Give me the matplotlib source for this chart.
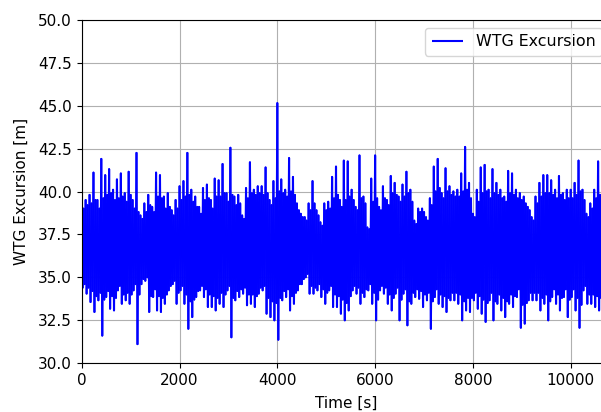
import numpy as np
import matplotlib
matplotlib.use("Agg")
import matplotlib.pyplot as plt
from matplotlib.collections import LineCollection

plt.rcParams["font.size"] = 11

# Wind turbine generator excursion time history. Every 80 s block holds
# four turning points of the motion record: the outer crest, the outer
# trough, then the inner crest and inner trough of the following waves.
step = 80  # [s]

crest = [
    39.3, 39.5, 39.8, 41.1, 39.5, 41.9, 40.95, 41.3, 40.1, 40.7,
    41.05, 39.9, 41.15, 39.5, 42.25, 38.6, 39.3, 39.8, 39.1, 41.1,
    40.95, 39.7, 39.9, 38.9, 39.5, 40.3, 40.6, 42.25, 40.1, 39.7,
    39.1, 40.2, 40.4, 39.5, 40.75, 40.65, 41.6, 39.9, 42.55, 39.7,
    39.8, 38.6, 40.2, 41.7, 40.1, 40.3, 40.3, 41.4, 39.5, 40.6,
    45.15, 40.7, 40.1, 41.95, 40.85, 39.3, 38.7, 38.5, 39.3, 40.6,
    38.9, 38.2, 39.3, 39.4, 40.85, 41.45, 39.5, 41.8, 41.75, 40.1,
    39.1, 42.1, 39.7, 37.9, 40.75, 42.1, 39.1, 40.3, 39.5, 40.9,
    40.5, 39.7, 40.4, 41.15, 40.1, 38.3, 39.0, 39.0, 38.5, 39.6,
    41.45, 41.9, 39.9, 41.35, 40.3, 40.0, 40.1, 41.05, 42.6, 40.5,
    38.7, 40.1, 41.4, 41.55, 40.1, 41.3, 40.5, 40.1, 39.7, 41.2,
    41.05, 40.1, 39.9, 39.7, 39.1, 38.5, 39.7, 40.5, 40.95, 40.95,
    40.65, 40.1, 40.9, 39.9, 40.1, 40.1, 40.5, 41.8, 40.1, 38.7,
    39.3, 40.1, 41.75, 38.7,
]

trough = [
    34.4, 34.05, 33.56, 32.98, 33.66, 31.6, 33.85, 33.17, 33.07, 34.24,
    33.46, 33.66, 33.46, 34.24, 31.1, 34.6, 34.8, 32.98, 33.85, 33.07,
    32.98, 33.46, 34.24, 34.6, 33.46, 34.24, 33.46, 32.0, 32.68, 33.85,
    34.24, 33.85, 33.27, 33.27, 33.07, 33.46, 33.27, 34.24, 31.5, 33.66,
    33.85, 34.05, 33.37, 33.46, 33.27, 34.05, 34.24, 32.88, 32.68, 32.49,
    31.36, 33.66, 33.85, 33.07, 33.46, 34.24, 34.6, 35.0, 34.05, 34.05,
    34.24, 33.85, 33.46, 34.24, 33.27, 33.27, 32.88, 32.49, 33.07, 34.24,
    34.05, 33.46, 33.85, 34.24, 33.46, 32.49, 34.24, 34.05, 33.46, 33.07,
    34.05, 32.49, 34.05, 32.2, 33.46, 33.85, 33.75, 33.27, 33.66, 32.0,
    33.85, 33.46, 33.27, 32.98, 33.66, 33.66, 33.46, 32.49, 33.07, 32.98,
    33.66, 33.17, 32.88, 32.4, 33.66, 32.49, 33.46, 33.07, 32.68, 33.46,
    33.27, 33.85, 32.06, 32.3, 33.66, 33.66, 33.66, 33.07, 33.46, 32.49,
    33.85, 33.46, 33.07, 33.85, 32.68, 33.85, 33.07, 32.06, 34.24, 33.46,
    33.46, 33.27, 33.07, 33.3,
]

inner_crest = [
    39.0, 39.2, 39.3, 39.5, 39.0, 39.6, 39.8, 39.9, 39.5, 39.6,
    39.7, 39.4, 39.8, 39.0, 38.8, 38.4, 38.8, 39.2, 38.8, 39.7,
    39.6, 39.0, 39.1, 38.6, 39.0, 39.5, 39.7, 39.8, 39.4, 39.1,
    38.7, 39.5, 39.6, 39.0, 39.7, 39.7, 39.9, 39.4, 39.8, 39.2,
    39.3, 38.4, 39.6, 39.9, 39.8, 39.9, 39.8, 39.9, 39.2, 39.6,
    40.0, 39.9, 39.7, 40.0, 39.8, 38.9, 38.5, 38.3, 38.9, 39.3,
    38.6, 38.0, 38.9, 39.0, 39.6, 39.8, 39.1, 39.5, 39.7, 39.5,
    38.9, 39.6, 39.3, 37.8, 39.4, 39.6, 38.9, 39.6, 39.2, 39.9,
    39.8, 39.4, 39.7, 39.9, 39.4, 38.1, 38.8, 38.8, 38.3, 39.2,
    40.0, 40.2, 39.6, 40.0, 39.8, 39.7, 39.7, 40.0, 40.1, 39.6,
    38.5, 39.4, 39.9, 40.0, 39.6, 39.9, 39.8, 39.6, 39.4, 39.9,
    39.8, 39.6, 39.5, 39.3, 38.9, 38.3, 39.3, 39.7, 39.9, 39.9,
    39.8, 39.6, 39.8, 39.5, 39.6, 39.6, 39.8, 40.0, 39.5, 38.5,
    39.0, 39.6, 39.8, 38.6,
]

inner_trough = [
    34.6, 34.4, 34.2, 33.9, 34.1, 33.7, 34.2, 33.9, 33.8, 34.5,
    34.0, 34.1, 34.0, 34.6, 34.0, 34.9, 35.0, 33.9, 34.3, 33.9,
    33.8, 34.0, 34.5, 34.8, 34.1, 34.5, 34.0, 33.6, 33.7, 34.2,
    34.5, 34.3, 34.0, 33.9, 33.8, 34.1, 34.0, 34.5, 33.8, 34.2,
    34.3, 34.4, 34.0, 34.0, 33.9, 34.4, 34.5, 33.8, 33.6, 33.5,
    33.8, 34.2, 34.3, 33.9, 34.1, 34.6, 34.9, 35.2, 34.5, 34.4,
    34.6, 34.3, 34.1, 34.5, 34.0, 33.9, 33.7, 33.5, 33.9, 34.5,
    34.4, 34.1, 34.3, 34.6, 34.1, 33.7, 34.5, 34.4, 34.0, 33.8,
    34.4, 33.7, 34.3, 33.6, 34.1, 34.3, 34.2, 34.0, 34.1, 33.6,
    34.3, 34.0, 33.9, 33.8, 34.1, 34.1, 34.0, 33.6, 33.8, 33.8,
    34.1, 33.9, 33.7, 33.5, 34.1, 33.6, 34.0, 33.8, 33.6, 34.0,
    33.9, 34.3, 33.4, 33.5, 34.1, 34.1, 34.1, 33.8, 34.0, 33.6,
    34.3, 34.0, 33.8, 34.3, 33.7, 34.3, 33.8, 33.4, 34.5, 34.0,
    34.0, 33.9, 33.8, 34.0,
]

n = len(crest)
t0 = np.arange(n) * step
quarter = step / 4

time = np.empty(4 * n)
excursion = np.empty(4 * n)
time[0::4], excursion[0::4] = t0, crest
time[1::4], excursion[1::4] = t0 + quarter, trough
time[2::4], excursion[2::4] = t0 + 2 * quarter, inner_crest
time[3::4], excursion[3::4] = t0 + 3 * quarter, inner_trough

# Each stretch between consecutive samples is stroked on its own so that
# the dense oscillation renders as a continuous band.
points = np.column_stack([time, excursion])
segments = np.stack([points[:-1], points[1:]], axis=1)

fig = plt.figure(figsize=(6.01, 4.12), dpi=100)
ax = fig.add_axes([0.136, 0.119, 0.8787, 0.8323])

trace = LineCollection(segments, colors="blue", linewidths=1.5,
                       capstyle="round", label="WTG Excursion")
ax.add_collection(trace)

ax.set_xlim(0, 10800)
ax.set_ylim(30, 50)
ax.set_yticks(np.arange(30, 50.01, 2.5))
ax.grid(True)
ax.set_xlabel("Time [s]", labelpad=6.0)
ax.set_ylabel("WTG Excursion [m]", labelpad=6.5)
ax.legend(loc="upper right", fontsize=11.4)

fig.savefig("out.png", dpi=100)
